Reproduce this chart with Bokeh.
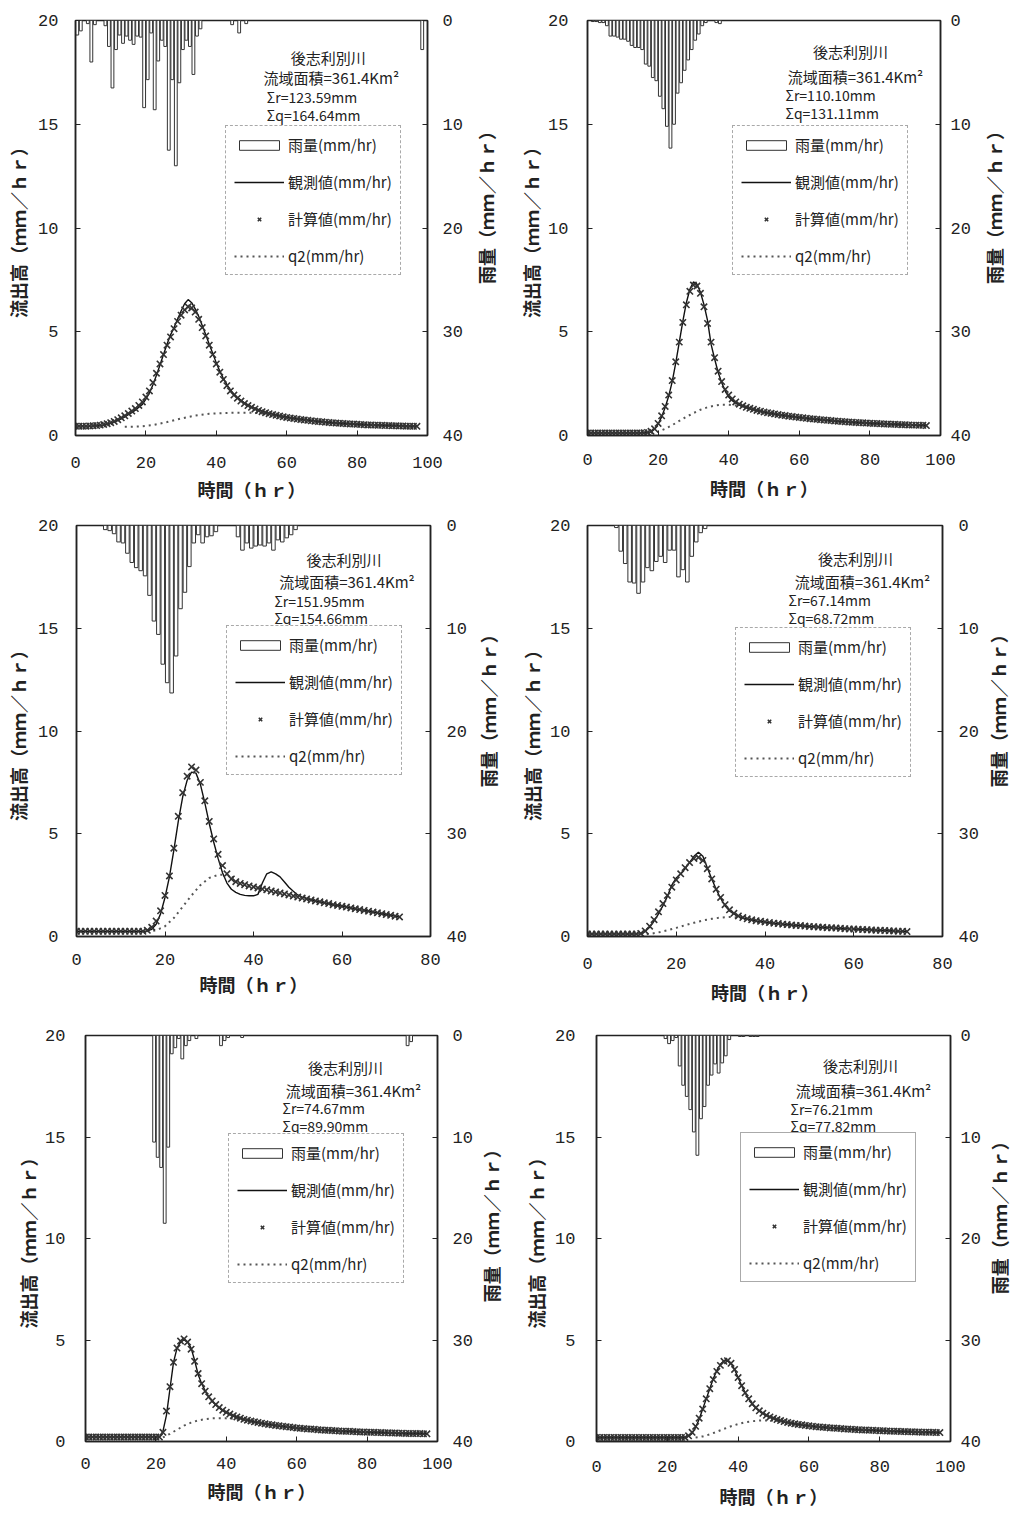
import math
from bokeh.plotting import figure
from bokeh.models import Range1d, LinearAxis, Legend, LegendItem, Label, FixedTicker
from bokeh.layouts import row, column
from bokeh.embed import file_html
from bokeh.resources import INLINE

CJK = "Noto Sans CJK JP"
NUM = "Liberation Mono"

RIVER = "後志利別川"
AREA = "流域面積=361.4Km²"
Y_LABEL = "流出高（ｍｍ／ｈｒ）"
RAIN_LABEL = "雨量（ｍｍ／ｈｒ）"
X_LABEL = "時間（ｈｒ）"
LEG_RAIN = "雨量(mm/hr)"
LEG_OBS = "観測値(mm/hr)"
LEG_CALC = "計算値(mm/hr)"
LEG_Q2 = "q2(mm/hr)"
Y_TICKS = [0, 5, 10, 15, 20]
RAIN_TICKS = [0, 10, 20, 30, 40]
X_TICKS_100 = [0, 20, 40, 60, 80, 100]
X_TICKS_80 = [0, 20, 40, 60, 80]

# ---------------- panel 1 ----------------
p1_sum_r = "Σr=123.59mm"
p1_sum_q = "Σq=164.64mm"
p1_rain = [1.4, 1.0, 0, 0.3, 4.0, 0.4, 0, 0, 0.5, 2.5,
           6.5, 2.8, 1.4, 2.2, 1.5, 1.9, 2.3, 1.5, 1.6, 8.4,
           5.7, 1.2, 8.6, 3.9, 1.9, 2.5, 12.5, 5.7, 14.0, 6.0,
           2.8, 1.9, 2.5, 5.2, 1.5, 0.8, 0, 0, 0, 0,
           0, 0, 0, 0, 0.4, 0, 1.2, 0, 0.3, 0,
           0, 0, 0, 0, 0, 0, 0, 0, 0, 0,
           0, 0, 0, 0, 0, 0, 0, 0, 0, 0,
           0, 0, 0, 0, 0, 0, 0, 0, 0, 0,
           0, 0, 0, 0, 0, 0, 0, 0, 0, 0,
           0, 0, 0, 0, 0, 0, 0, 0, 2.8, 0]
p1_obs = [0.45, 0.45, 0.45, 0.45, 0.45, 0.46, 0.47, 0.48, 0.50, 0.55,
          0.60, 0.65, 0.72, 0.80, 0.90, 1.00, 1.10, 1.22, 1.36, 1.50,
          1.75, 2.05, 2.45, 2.90, 3.40, 3.90, 4.40, 4.85, 5.20, 5.60,
          6.00, 6.35, 6.55, 6.40, 6.10, 5.75, 5.30, 4.85, 4.40, 3.95,
          3.50, 3.10, 2.75, 2.45, 2.20, 2.00, 1.84, 1.70, 1.58, 1.48,
          1.39, 1.31, 1.24, 1.18, 1.12, 1.07, 1.03, 0.99, 0.95, 0.92,
          0.89, 0.86, 0.83, 0.80, 0.78, 0.76, 0.74, 0.72, 0.70, 0.68,
          0.66, 0.64, 0.63, 0.62, 0.60, 0.59, 0.58, 0.57, 0.56, 0.55,
          0.54, 0.53, 0.52, 0.52, 0.51, 0.50, 0.50, 0.49, 0.49, 0.48,
          0.48, 0.47, 0.47, 0.46, 0.46, 0.45, 0.45, 0.44]
p1_calc = [0.45, 0.45, 0.45, 0.45, 0.46, 0.47, 0.48, 0.50, 0.53, 0.57,
           0.62, 0.68, 0.76, 0.85, 0.95, 1.06, 1.18, 1.30, 1.45, 1.62,
           1.85, 2.15, 2.55, 3.00, 3.45, 3.90, 4.35, 4.75, 5.15, 5.50,
           5.80, 6.05, 6.20, 6.15, 5.95, 5.60, 5.20, 4.80, 4.35, 3.90,
           3.45, 3.05, 2.70, 2.40, 2.15, 1.95, 1.80, 1.66, 1.54, 1.44,
           1.36, 1.28, 1.21, 1.15, 1.10, 1.05, 1.01, 0.97, 0.94, 0.90,
           0.87, 0.84, 0.82, 0.79, 0.77, 0.75, 0.73, 0.71, 0.69, 0.67,
           0.66, 0.64, 0.63, 0.61, 0.60, 0.59, 0.58, 0.57, 0.56, 0.55,
           0.54, 0.53, 0.52, 0.51, 0.51, 0.50, 0.49, 0.49, 0.48, 0.48,
           0.47, 0.47, 0.46, 0.46, 0.45, 0.45, 0.44, 0.44]
p1_q2_hours = [14, 18, 22, 26, 30, 34, 38, 42, 46, 50, 54, 58, 62, 66, 70, 74, 78, 82, 86, 90, 94, 97]
p1_q2 = [0.42, 0.43, 0.50, 0.65, 0.82, 0.96, 1.05, 1.08, 1.10, 1.10, 1.05, 0.93, 0.83, 0.75, 0.66, 0.60,
         0.56, 0.52, 0.49, 0.47, 0.45, 0.44]

# ---------------- panel 2 ----------------
p2_sum_r = "Σr=110.10mm"
p2_sum_q = "Σq=131.11mm"
p2_rain = [0, 0.1, 0.1, 0.2, 0.2, 0.5, 1.5, 1.5, 1.6, 1.8,
           1.8, 2.0, 2.4, 2.6, 2.6, 2.8, 4.2, 4.4, 5.5, 5.8,
           7.3, 8.5, 10.2, 12.3, 10.0, 7.0, 6.0, 4.8, 3.8, 2.8,
           1.9, 1.3, 0.5, 0.2, 0, 0, 0.2, 0.3]
p2_obs = [0.12, 0.12, 0.12, 0.12, 0.12, 0.12, 0.12, 0.12, 0.12, 0.12,
          0.12, 0.12, 0.12, 0.12, 0.12, 0.12, 0.13, 0.14, 0.18, 0.30,
          0.55, 0.90, 1.35, 1.90, 2.60, 3.50, 4.50, 5.50, 6.40, 7.05,
          7.40, 7.30, 6.90, 6.30, 5.55, 4.40, 3.70, 3.05, 2.55, 2.15,
          1.85, 1.68, 1.56, 1.47, 1.40, 1.34, 1.29, 1.24, 1.20, 1.16,
          1.12, 1.09, 1.06, 1.03, 1.00, 0.97, 0.95, 0.93, 0.91, 0.89,
          0.87, 0.85, 0.83, 0.81, 0.79, 0.77, 0.76, 0.74, 0.73, 0.71,
          0.70, 0.68, 0.67, 0.66, 0.65, 0.64, 0.63, 0.62, 0.61, 0.60,
          0.59, 0.58, 0.57, 0.56, 0.56, 0.55, 0.54, 0.53, 0.53, 0.52,
          0.51, 0.51, 0.50, 0.50, 0.49, 0.49, 0.48]
p2_calc = [0.12, 0.12, 0.12, 0.12, 0.12, 0.12, 0.12, 0.12, 0.12, 0.12,
           0.12, 0.12, 0.12, 0.12, 0.12, 0.12, 0.13, 0.15, 0.20, 0.32,
           0.58, 0.95, 1.40, 1.95, 2.65, 3.55, 4.50, 5.45, 6.30, 6.95,
           7.25, 7.20, 6.85, 6.20, 5.40, 4.50, 3.75, 3.10, 2.60, 2.22,
           1.95, 1.76, 1.62, 1.51, 1.43, 1.36, 1.31, 1.26, 1.21, 1.17,
           1.13, 1.10, 1.07, 1.04, 1.01, 0.98, 0.96, 0.93, 0.91, 0.89,
           0.87, 0.85, 0.83, 0.81, 0.80, 0.78, 0.76, 0.75, 0.73, 0.72,
           0.70, 0.69, 0.68, 0.66, 0.65, 0.64, 0.63, 0.62, 0.61, 0.60,
           0.59, 0.58, 0.58, 0.57, 0.56, 0.55, 0.54, 0.54, 0.53, 0.52,
           0.52, 0.51, 0.50, 0.50, 0.49, 0.49, 0.48]
p2_q2_hours = [18, 20, 22, 24, 26, 28, 30, 32, 34, 36, 38, 40, 42, 44, 46, 50, 54, 60, 70, 80, 90, 96]
p2_q2 = [0.12, 0.18, 0.32, 0.50, 0.70, 0.90, 1.08, 1.24, 1.36, 1.44, 1.48, 1.48, 1.45, 1.40, 1.31, 1.13,
         1.00, 0.87, 0.70, 0.59, 0.51, 0.48]

# ---------------- panel 3 ----------------
p3_sum_r = "Σr=151.95mm"
p3_sum_q = "Σq=154.66mm"
p3_rain = [0, 0, 0, 0, 0, 0, 0.4, 0.5, 0.8, 1.6,
           1.7, 2.7, 3.6, 4.1, 4.4, 4.9, 6.8, 9.3, 10.6, 13.5,
           15.3, 16.3, 12.7, 8.1, 6.5, 4.0, 1.7, 0.9, 1.7, 1.1,
           1.0, 0.6, 0, 0, 0, 0, 1.1, 2.4, 1.7, 2.2,
           2.0, 1.9, 2.0, 1.7, 2.4, 1.4, 1.6, 1.2, 0.9, 0.4]
p3_obs = [0.25, 0.25, 0.25, 0.25, 0.25, 0.25, 0.25, 0.25, 0.25, 0.25,
          0.25, 0.25, 0.25, 0.25, 0.25, 0.25, 0.27, 0.35, 0.60, 1.10,
          1.90, 2.90, 4.20, 5.60, 6.80, 7.60, 8.00, 7.95, 7.40, 6.50,
          5.50, 4.60, 3.80, 3.10, 2.60, 2.30, 2.15, 2.05, 2.00, 1.98,
          1.98, 2.05, 2.60, 3.05, 3.15, 3.05, 2.90, 2.65, 2.40, 2.20,
          2.02, 1.92, 1.85, 1.79, 1.74, 1.69, 1.64, 1.60, 1.55, 1.51,
          1.47, 1.43, 1.39, 1.35, 1.31, 1.27, 1.23, 1.19, 1.15, 1.11,
          1.07, 1.03, 0.99, 0.95]
p3_calc = [0.25, 0.25, 0.25, 0.25, 0.25, 0.25, 0.25, 0.25, 0.25, 0.25,
           0.25, 0.25, 0.25, 0.25, 0.25, 0.25, 0.30, 0.45, 0.75, 1.25,
           2.00, 2.95, 4.30, 5.85, 7.00, 7.80, 8.25, 8.10, 7.50, 6.60,
           5.60, 4.75, 4.00, 3.45, 3.05, 2.80, 2.67, 2.58, 2.52, 2.46,
           2.41, 2.36, 2.31, 2.27, 2.22, 2.17, 2.12, 2.07, 2.02, 1.97,
           1.92, 1.87, 1.83, 1.78, 1.73, 1.69, 1.64, 1.60, 1.55, 1.51,
           1.47, 1.43, 1.39, 1.35, 1.31, 1.27, 1.23, 1.19, 1.15, 1.11,
           1.07, 1.03, 0.99, 0.95]
p3_q2_hours = [16, 18, 20, 22, 24, 26, 28, 30, 32, 34, 36, 38, 40, 44, 48, 52, 56, 60, 64, 68, 73]
p3_q2 = [0.25, 0.30, 0.50, 0.90, 1.45, 2.00, 2.50, 2.85, 3.00, 3.02, 2.80, 2.55, 2.42, 2.22, 2.02, 1.83,
         1.64, 1.47, 1.31, 1.15, 0.95]

# ---------------- panel 4 ----------------
p4_sum_r = "Σr=67.14mm"
p4_sum_q = "Σq=68.72mm"
p4_rain = [0, 0, 0, 0, 0, 0, 0.2, 2.5, 3.7, 5.5,
           5.6, 6.6, 5.5, 4.1, 4.4, 3.5, 3.0, 3.6, 2.4, 2.4,
           5.0, 4.3, 5.5, 3.0, 1.6, 0.7, 0.3]
p4_obs = [0.12, 0.12, 0.12, 0.12, 0.12, 0.12, 0.12, 0.12, 0.12, 0.12,
          0.12, 0.12, 0.14, 0.25, 0.45, 0.75, 1.10, 1.50, 1.95, 2.50,
          2.85, 3.05, 3.30, 3.60, 3.90, 4.10, 3.90, 3.35, 2.80, 2.30,
          1.85, 1.50, 1.25, 1.10, 0.98, 0.90, 0.85, 0.80, 0.76, 0.73,
          0.70, 0.67, 0.64, 0.62, 0.60, 0.58, 0.56, 0.54, 0.52, 0.50,
          0.49, 0.47, 0.46, 0.44, 0.43, 0.42, 0.40, 0.39, 0.38, 0.37,
          0.36, 0.35, 0.34, 0.33, 0.32, 0.31, 0.30, 0.29, 0.28, 0.27,
          0.26, 0.25, 0.24]
p4_calc = [0.12, 0.12, 0.12, 0.12, 0.12, 0.12, 0.12, 0.12, 0.12, 0.12,
           0.12, 0.12, 0.15, 0.27, 0.50, 0.82, 1.20, 1.60, 2.00, 2.40,
           2.75, 3.05, 3.35, 3.60, 3.80, 3.85, 3.70, 3.30, 2.80, 2.30,
           1.90, 1.55, 1.30, 1.13, 1.00, 0.92, 0.86, 0.81, 0.77, 0.74,
           0.71, 0.68, 0.65, 0.63, 0.60, 0.58, 0.56, 0.54, 0.53, 0.51,
           0.49, 0.48, 0.46, 0.45, 0.43, 0.42, 0.41, 0.40, 0.38, 0.37,
           0.36, 0.35, 0.34, 0.33, 0.32, 0.31, 0.30, 0.29, 0.28, 0.27,
           0.26, 0.25, 0.24]
p4_q2_hours = [12, 14, 16, 18, 20, 22, 24, 26, 28, 30, 32, 34, 36, 40, 44, 48, 52, 56, 60, 64, 68, 72]
p4_q2 = [0.10, 0.12, 0.20, 0.30, 0.42, 0.55, 0.67, 0.78, 0.86, 0.92, 0.95, 0.93, 0.86, 0.71, 0.60, 0.53,
         0.46, 0.41, 0.36, 0.32, 0.28, 0.24]

# ---------------- panel 5 ----------------
p5_sum_r = "Σr=74.67mm"
p5_sum_q = "Σq=89.90mm"
p5_rain = [0, 0, 0, 0, 0, 0, 0, 0, 0, 0,
           0, 0, 0, 0, 0, 0, 0, 0, 0, 10.5,
           12.0, 13.0, 18.5, 11.0, 1.8, 1.2, 0.3, 2.3, 1.0, 0.5,
           0, 0.3, 0, 0, 0, 0, 0, 0, 1.0, 0.5,
           0.2, 0, 0, 0, 0.2, 0, 0, 0, 0, 0,
           0, 0, 0, 0, 0, 0, 0, 0, 0, 0,
           0, 0, 0, 0, 0, 0, 0, 0, 0, 0,
           0, 0, 0, 0, 0, 0, 0, 0, 0, 0,
           0, 0, 0, 0, 0, 0, 0, 0, 0, 0,
           0, 1.0, 0.6]
p5_obs = [0.22, 0.22, 0.22, 0.22, 0.22, 0.22, 0.22, 0.22, 0.22, 0.22,
          0.22, 0.22, 0.22, 0.22, 0.22, 0.22, 0.22, 0.22, 0.22, 0.22,
          0.22, 0.22, 0.50, 1.30, 2.60, 3.90, 4.60, 4.90, 5.00, 4.90,
          4.60, 4.00, 3.30, 2.85, 2.50, 2.20, 1.98, 1.80, 1.65, 1.52,
          1.42, 1.34, 1.27, 1.20, 1.14, 1.08, 1.04, 1.00, 0.96, 0.93,
          0.90, 0.87, 0.84, 0.81, 0.78, 0.76, 0.74, 0.72, 0.70, 0.68,
          0.66, 0.65, 0.63, 0.62, 0.60, 0.59, 0.58, 0.57, 0.56, 0.55,
          0.54, 0.53, 0.52, 0.51, 0.50, 0.49, 0.48, 0.48, 0.47, 0.46,
          0.46, 0.45, 0.44, 0.44, 0.43, 0.43, 0.42, 0.42, 0.41, 0.41,
          0.40, 0.40, 0.39, 0.39, 0.39, 0.38, 0.38, 0.38]
p5_calc = [0.22, 0.22, 0.22, 0.22, 0.22, 0.22, 0.22, 0.22, 0.22, 0.22,
           0.22, 0.22, 0.22, 0.22, 0.22, 0.22, 0.22, 0.22, 0.22, 0.22,
           0.22, 0.22, 0.45, 1.50, 2.70, 3.90, 4.60, 4.95, 5.05, 4.90,
           4.55, 3.95, 3.35, 2.85, 2.48, 2.20, 2.00, 1.82, 1.67, 1.54,
           1.44, 1.35, 1.27, 1.21, 1.15, 1.09, 1.05, 1.01, 0.97, 0.94,
           0.90, 0.87, 0.84, 0.82, 0.79, 0.77, 0.75, 0.73, 0.71, 0.69,
           0.67, 0.65, 0.64, 0.62, 0.61, 0.60, 0.58, 0.57, 0.56, 0.55,
           0.54, 0.53, 0.52, 0.51, 0.50, 0.50, 0.49, 0.48, 0.47, 0.47,
           0.46, 0.45, 0.45, 0.44, 0.44, 0.43, 0.43, 0.42, 0.42, 0.41,
           0.41, 0.40, 0.40, 0.39, 0.39, 0.39, 0.38, 0.38]
p5_q2_hours = [22, 24, 26, 28, 30, 32, 34, 36, 38, 40, 42, 44, 46, 48, 52, 56, 60, 64, 70, 80, 90, 97]
p5_q2 = [0.20, 0.38, 0.58, 0.78, 0.93, 1.04, 1.10, 1.14, 1.15, 1.14, 1.12, 1.10, 1.04, 0.96, 0.84, 0.74,
         0.66, 0.60, 0.54, 0.46, 0.40, 0.38]

# ---------------- panel 6 ----------------
p6_sum_r = "Σr=76.21mm"
p6_sum_q = "Σq=77.82mm"
p6_rain = [0, 0, 0, 0, 0, 0, 0, 0, 0, 0,
           0, 0, 0, 0, 0, 0, 0, 0, 0, 0.3,
           0.8, 0.5, 0.2, 3.0, 4.9, 6.0, 7.3, 9.5, 11.8, 8.2,
           7.0, 4.9, 3.9, 2.8, 3.7, 2.7, 2.0, 0.4, 0, 0,
           0.1, 0.1, 0, 0.1, 0.1, 0.1]
p6_obs = [0.20, 0.20, 0.20, 0.20, 0.20, 0.20, 0.20, 0.20, 0.20, 0.20,
          0.20, 0.20, 0.20, 0.20, 0.20, 0.20, 0.20, 0.20, 0.20, 0.20,
          0.20, 0.20, 0.20, 0.20, 0.20, 0.20, 0.25, 0.40, 0.70, 1.10,
          1.60, 2.10, 2.60, 3.10, 3.50, 3.80, 3.98, 4.00, 3.85, 3.55,
          3.15, 2.75, 2.40, 2.10, 1.85, 1.65, 1.50, 1.38, 1.28, 1.20,
          1.13, 1.07, 1.02, 0.97, 0.93, 0.90, 0.87, 0.84, 0.81, 0.79,
          0.77, 0.75, 0.73, 0.71, 0.70, 0.68, 0.67, 0.66, 0.64, 0.63,
          0.62, 0.61, 0.60, 0.59, 0.58, 0.57, 0.56, 0.55, 0.55, 0.54,
          0.53, 0.52, 0.52, 0.51, 0.50, 0.50, 0.49, 0.48, 0.48, 0.47,
          0.47, 0.46, 0.46, 0.45, 0.45, 0.44, 0.44, 0.43]
p6_calc = [0.20, 0.20, 0.20, 0.20, 0.20, 0.20, 0.20, 0.20, 0.20, 0.20,
           0.20, 0.20, 0.20, 0.20, 0.20, 0.20, 0.20, 0.20, 0.20, 0.20,
           0.20, 0.20, 0.20, 0.20, 0.20, 0.20, 0.28, 0.45, 0.75, 1.15,
           1.60, 2.10, 2.60, 3.05, 3.45, 3.75, 3.95, 3.98, 3.85, 3.55,
           3.15, 2.75, 2.40, 2.10, 1.86, 1.66, 1.51, 1.39, 1.29, 1.21,
           1.14, 1.08, 1.03, 0.98, 0.94, 0.90, 0.87, 0.84, 0.82, 0.79,
           0.77, 0.75, 0.73, 0.72, 0.70, 0.69, 0.67, 0.66, 0.65, 0.64,
           0.62, 0.61, 0.60, 0.59, 0.58, 0.57, 0.57, 0.56, 0.55, 0.54,
           0.53, 0.53, 0.52, 0.51, 0.51, 0.50, 0.49, 0.49, 0.48, 0.48,
           0.47, 0.47, 0.46, 0.46, 0.45, 0.45, 0.44, 0.44]
p6_q2_hours = [28, 30, 32, 34, 36, 38, 40, 42, 44, 46, 48, 50, 52, 54, 56, 60, 64, 70, 80, 90, 97]
p6_q2 = [0.20, 0.25, 0.35, 0.48, 0.62, 0.75, 0.86, 0.95, 1.00, 1.03, 1.04, 1.03, 1.00, 0.94, 0.87, 0.77,
         0.70, 0.62, 0.53, 0.47, 0.43]

INK = "#222222"
LABEL_PX = 18


def build(xmax, xticks, rain, obs, calc, q2h, q2v, sum_r, sum_q, lay, stand, txt, leg_dash):
    W, H, bl, bt, fw, fh = lay
    lst, llab, rst, bst, blab = stand
    p = figure(width=W, height=H, x_range=Range1d(0, xmax), y_range=Range1d(0, 20),
               output_backend="svg", toolbar_location=None,
               min_border_left=bl, min_border_top=bt,
               min_border_right=W - bl - fw, min_border_bottom=H - bt - fh,
               background_fill_color="white", border_fill_color="white")
    p.grid.visible = False
    p.outline_line_color = INK
    p.outline_line_width = 1.5
    p.extra_y_ranges = {"rain": Range1d(40, 0)}
    rax = LinearAxis(y_range_name="rain", ticker=FixedTicker(ticks=RAIN_TICKS))
    p.add_layout(rax, "right")
    p.xaxis.ticker = FixedTicker(ticks=xticks)
    p.yaxis[0].ticker = FixedTicker(ticks=Y_TICKS)
    p.xaxis.axis_label = X_LABEL
    p.yaxis[0].axis_label = Y_LABEL
    for ax in p.axis:
        ax.major_tick_in = 5
        ax.major_tick_out = 0
        ax.minor_tick_line_color = None
        ax.axis_line_color = INK
        ax.axis_line_width = 1.5
        ax.major_tick_line_color = INK
        ax.major_label_text_font = NUM
        ax.major_label_text_font_size = "17px"
        ax.major_label_text_color = INK
        ax.axis_label_text_font = CJK
        ax.axis_label_text_font_size = f"{LABEL_PX}px"
        ax.axis_label_text_font_style = "bold"
        ax.axis_label_text_color = INK
    p.yaxis[0].major_label_standoff = lst
    p.yaxis[0].axis_label_standoff = llab
    rax.major_label_standoff = rst
    p.xaxis.major_label_standoff = bst
    p.xaxis.axis_label_standoff = blab

    bx = [i + 0.5 for i, v in enumerate(rain) if v > 0]
    bv = [v for v in rain if v > 0]
    bars = p.vbar(x=bx, width=0.8, top=0, bottom=bv, y_range_name="rain",
                  fill_color="white", line_color="#333333", line_width=1)
    q2r = p.line(q2h, q2v, line_color="#555555", line_width=2, line_dash="2 4")
    obr = p.line(list(range(len(obs))), obs, line_color="#111111", line_width=1.4)
    car = p.scatter(list(range(len(calc))), calc, marker="x", size=9,
                    line_color="#333333", line_width=1.6)

    def dx(rx):
        return rx / fw * xmax

    def dy(ry):
        return 20 * (1 - ry / fh)

    (tx, ty), (ax_, ay), (sx, sry), (sqy,), (lx, ly) = txt
    p.add_layout(Label(x=dx(tx), y=dy(ty), text=RIVER, text_font=CJK, text_font_size="15px",
                       text_align="center", text_baseline="middle", text_color=INK))
    p.add_layout(Label(x=dx(ax_), y=dy(ay), text=AREA, text_font=CJK, text_font_size="15px",
                       text_align="center", text_baseline="middle", text_color=INK))
    p.add_layout(Label(x=dx(sx), y=dy(sry), text=sum_r, text_font=CJK, text_font_size="14px",
                       text_align="left", text_baseline="middle", text_color=INK))
    p.add_layout(Label(x=dx(sx), y=dy(sqy), text=sum_q, text_font=CJK, text_font_size="14px",
                       text_align="left", text_baseline="middle", text_color=INK))

    leg_h = 152
    legend = Legend(items=[LegendItem(label=LEG_RAIN, renderers=[bars]),
                           LegendItem(label=LEG_OBS, renderers=[obr]),
                           LegendItem(label=LEG_CALC, renderers=[car]),
                           LegendItem(label=LEG_Q2, renderers=[q2r])],
                    location=(lx, fh - ly - leg_h), orientation="vertical",
                    glyph_width=50, glyph_height=12, label_height=20, spacing=16, padding=8,
                    margin=0, label_standoff=4, label_text_font=CJK, label_text_font_size="15px",
                    label_text_color=INK, border_line_color="#555555", border_line_dash=leg_dash,
                    border_line_width=1, background_fill_color="white", background_fill_alpha=1.0)
    p.add_layout(legend)
    return p


def side_title(width, H, center_from_top):
    """Narrow strip to the right of a panel carrying the rain-axis title (reads bottom to top)."""
    t = figure(width=width, height=H, x_range=Range1d(0, 1), y_range=Range1d(0, H),
               output_backend="svg", toolbar_location=None,
               x_axis_location=None, y_axis_location=None,
               min_border_left=0, min_border_right=0, min_border_top=0, min_border_bottom=0,
               background_fill_color="white", border_fill_color="white")
    t.grid.visible = False
    t.outline_line_color = None
    t.add_layout(Label(x=0.5, y=H - center_from_top, text=RAIN_LABEL, angle=math.pi / 2,
                       text_font=CJK, text_font_size=f"{LABEL_PX}px", text_font_style="bold",
                       text_align="center", text_baseline="middle", text_color=INK))
    return t


p1 = build(100, X_TICKS_100, p1_rain, p1_obs, p1_calc, p1_q2_hours, p1_q2, p1_sum_r, p1_sum_q,
           (465, 505, 75, 20, 355, 415), (17, 4, 15, 21, 5),
           ((255, 37), (258, 57), (193, 76), (94,), (150, 103)), "4 3")
t1 = side_title(40, 505, 222)
p2 = build(100, X_TICKS_100, p2_rain, p2_obs, p2_calc, p2_q2_hours, p2_q2, p2_sum_r, p2_sum_q,
           (471, 505, 82, 17, 353, 418), (19, 1, 10, 18, 7),
           ((263, 31), (268, 56), (198, 75), (93,), (145, 106)), "4 3")
t2 = side_title(34, 505, 222)
p3 = build(80, X_TICKS_80, p3_rain, p3_obs, p3_calc, p3_q2_hours, p3_q2, p3_sum_r, p3_sum_q,
           (469, 505, 76, 20, 356, 420), (18, 4, 16, 17, 3),
           ((269, 35), (272, 57), (199, 77), (95,), (150, 107)), "4 3")
t3 = side_title(36, 505, 222)
p4 = build(80, X_TICKS_80, p4_rain, p4_obs, p4_calc, p4_q2_hours, p4_q2, p4_sum_r, p4_sum_q,
           (479, 505, 82, 13, 355, 418), (17, 2, 16, 21, 7),
           ((268, 34), (275, 57), (201, 76), (94,), (148, 107)), "4 3")
t4 = side_title(26, 505, 222)
p5 = build(100, X_TICKS_100, p5_rain, p5_obs, p5_calc, p5_q2_hours, p5_q2, p5_sum_r, p5_sum_q,
           (475, 507, 85, 25, 352, 415), (20, 1, 15, 16, 6),
           ((260, 33), (268, 56), (197, 74), (92,), (143, 105)), "4 3")
t5 = side_title(30, 507, 232)
p6 = build(100, X_TICKS_100, p6_rain, p6_obs, p6_calc, p6_q2_hours, p6_q2, p6_sum_r, p6_sum_q,
           (481, 507, 91, 14, 354, 417), (21, 3, 10, 19, 8),
           ((264, 31), (267, 57), (194, 75), (93,), (144, 106)), "solid")
t6 = side_title(24, 507, 222)

layout = column(row(p1, t1, p2, t2), row(p3, t3, p4, t4), row(p5, t5, p6, t6))
open("out.html", "w").write(file_html(layout, INLINE))
